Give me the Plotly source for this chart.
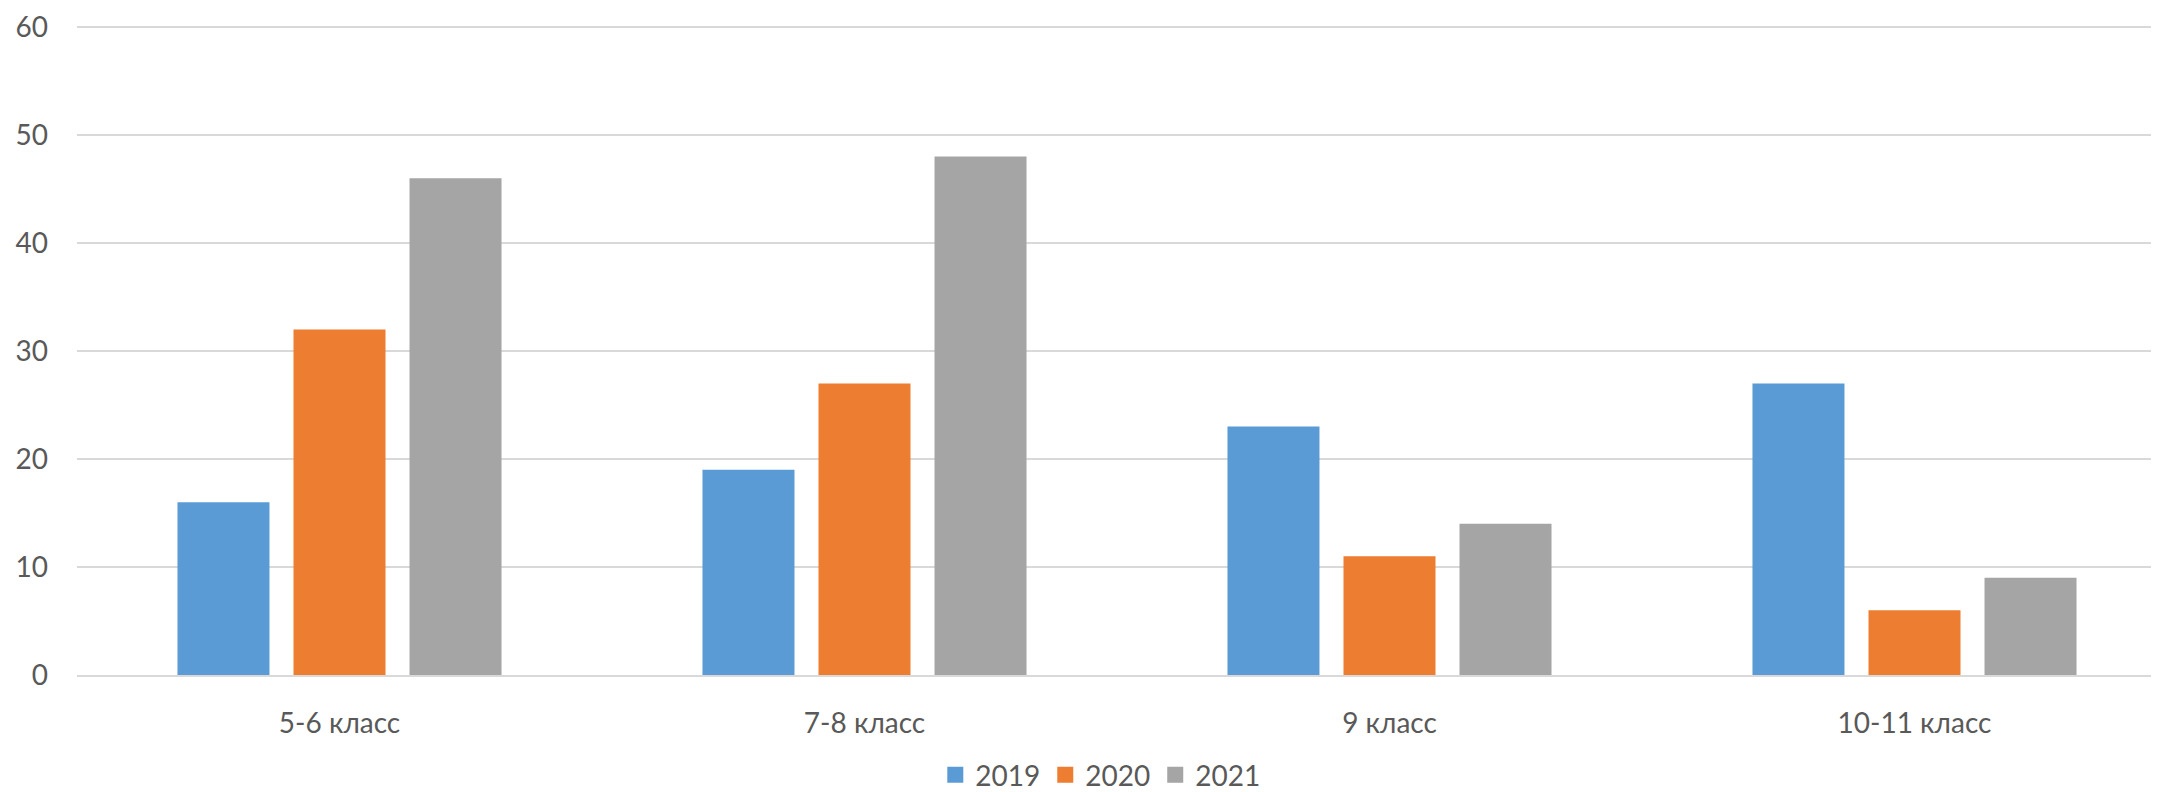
import plotly.graph_objects as go

categories = ["5-6 класс", "7-8 класс", "9 класс", "10-11 класс"]
years = ["2019", "2020", "2021"]
values_2019 = [16, 19, 23, 27]
values_2020 = [32, 27, 11, 6]
values_2021 = [46, 48, 14, 9]
y_ticks = [0, 10, 20, 30, 40, 50, 60]

colors = ["#5B9BD5", "#ED7D31", "#A5A5A5"]
series = [values_2019, values_2020, values_2021]

font_family = "Lato, 'Open Sans', sans-serif"
text_color = "#595959"

fig = go.Figure()
for name, vals, col in zip(years, series, colors):
    fig.add_trace(go.Bar(x=categories, y=vals, name=name, marker=dict(color=col, line=dict(width=0)),
                         showlegend=False))
for name, col in zip(years, colors):
    fig.add_trace(go.Scatter(x=[None], y=[None], mode="markers", name=name,
                             marker=dict(symbol="square", size=18, color=col)))

# page body has a default 8px margin, so the figure is made 8px smaller
W, H = 2151, 784
L = 69
cat_px = 525.0  # category spacing in the reference; plot runs past the right edge
x_hi = -0.5 + (W - L) / cat_px

fig.update_layout(
    width=W, height=H,
    margin=dict(l=L, r=0, t=14, b=117, autoexpand=False),
    plot_bgcolor="white", paper_bgcolor="white",
    barmode="group", bargap=0.337, bargroupgap=0.207,
    font=dict(family=font_family, size=28, color=text_color),
    legend=dict(orientation="h", xref="paper", x=0.4915, xanchor="center",
                yref="container", y=17 / H, yanchor="middle",
                font=dict(size=28, color=text_color), itemwidth=30,
                tracegroupgap=0),
)
fig.update_yaxes(range=[0, 60.46], tickvals=y_ticks, showgrid=True, gridcolor="#D9D9D9", gridwidth=2,
                 zeroline=False, showline=False, ticks="", ticklabelstandoff=28, automargin=False,
                 tickfont=dict(size=28, color=text_color))
fig.update_xaxes(range=[-0.5, x_hi], showline=True, linecolor="#D9D9D9", linewidth=2, ticks="",
                 ticklabelstandoff=22, automargin=False, tickfont=dict(size=28, color=text_color))

fig.write_html("out.html")
